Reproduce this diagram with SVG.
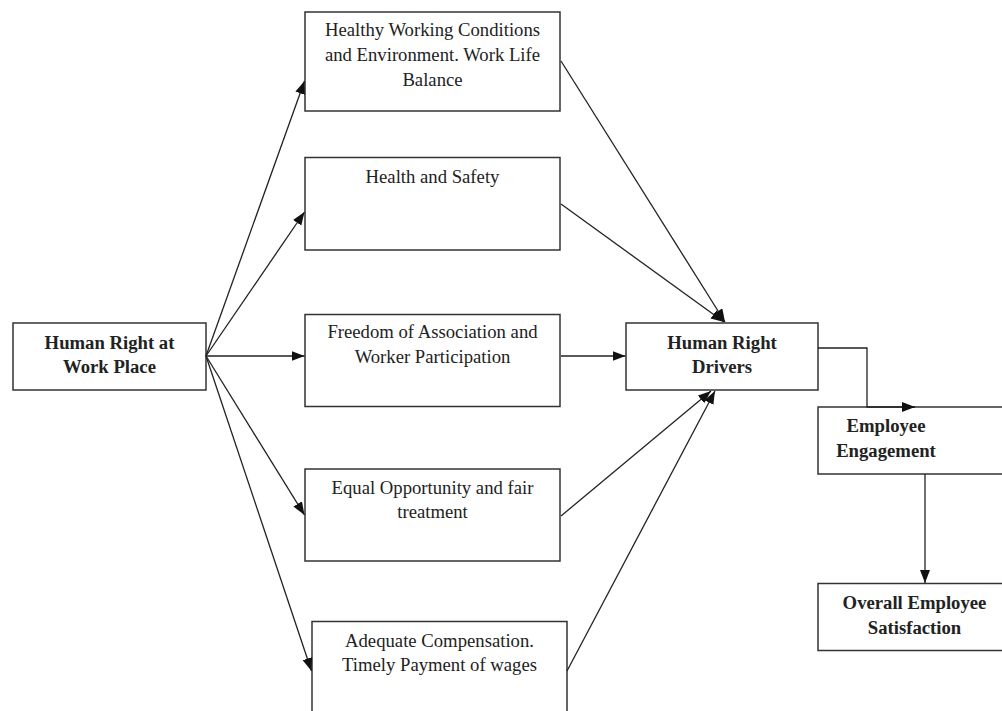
<svg xmlns="http://www.w3.org/2000/svg" width="1002" height="711" viewBox="0 0 1002 711">
<style>
.box{fill:#fff;stroke:#333;stroke-width:1.5}
.t{font-family:"Liberation Serif","Times New Roman",serif;font-size:18.7px;fill:#222;text-anchor:middle}
.b{font-weight:bold}
.c{fill:none;stroke:#222;stroke-width:1.3}
</style>
<defs>
<marker id="ah" markerUnits="userSpaceOnUse" markerWidth="14" markerHeight="11" refX="13" refY="5" orient="auto">
<path d="M0,0 L13,5 L0,10 z" fill="#111"/>
</marker>
</defs>
<rect width="1002" height="711" fill="#fff"/>
<g id="n-workplace">
<rect class="box" x="13" y="323" width="193" height="67"/>
<text class="t b" x="109.5" y="348.5">Human Right at</text>
<text class="t b" x="109.5" y="373">Work Place</text>
</g>
<g id="n-healthy">
<rect class="box" x="305" y="12" width="255" height="99"/>
<text class="t" x="432.5" y="36">Healthy Working Conditions</text>
<text class="t" x="432.5" y="61">and Environment. Work Life</text>
<text class="t" x="432.5" y="86">Balance</text>
</g>
<g id="n-safety">
<rect class="box" x="305" y="157.5" width="255" height="92.5"/>
<text class="t" x="432.5" y="183">Health and Safety</text>
</g>
<g id="n-freedom">
<rect class="box" x="305" y="314.5" width="255" height="92"/>
<text class="t" x="432.5" y="337.5">Freedom of Association and</text>
<text class="t" x="432.5" y="362.5">Worker Participation</text>
</g>
<g id="n-equal">
<rect class="box" x="305" y="469" width="255" height="92"/>
<text class="t" x="432.5" y="494">Equal Opportunity and fair</text>
<text class="t" x="432.5" y="518">treatment</text>
</g>
<g id="n-compensation">
<rect class="box" x="312" y="621.5" width="255" height="100"/>
<text class="t" x="439.5" y="647">Adequate Compensation.</text>
<text class="t" x="439.5" y="671">Timely Payment of wages</text>
</g>
<g id="n-drivers">
<rect class="box" x="626" y="323" width="192" height="67"/>
<text class="t b" x="722" y="348.5">Human Right</text>
<text class="t b" x="722" y="373">Drivers</text>
</g>
<g id="n-engagement">
<rect class="box" x="818" y="407" width="200" height="67"/>
<text class="t b" x="886" y="432">Employee</text>
<text class="t b" x="886" y="457">Engagement</text>
</g>
<g id="n-satisfaction">
<rect class="box" x="818" y="583.5" width="200" height="67"/>
<text class="t b" x="914.5" y="609">Overall Employee</text>
<text class="t b" x="914.5" y="633.5">Satisfaction</text>
</g>
<g id="connectors">
<line class="c" x1="206" y1="356" x2="304.5" y2="81" marker-end="url(#ah)"/>
<line class="c" x1="206" y1="356" x2="304.5" y2="212" marker-end="url(#ah)"/>
<line class="c" x1="206" y1="356" x2="304.5" y2="356" marker-end="url(#ah)"/>
<line class="c" x1="206" y1="356" x2="304.5" y2="515" marker-end="url(#ah)"/>
<line class="c" x1="206" y1="356" x2="311.5" y2="671" marker-end="url(#ah)"/>
<line class="c" x1="561" y1="61" x2="725" y2="322" marker-end="url(#ah)"/>
<line class="c" x1="561" y1="204" x2="724" y2="322" marker-end="url(#ah)"/>
<line class="c" x1="561" y1="356" x2="625.5" y2="356" marker-end="url(#ah)"/>
<line class="c" x1="561" y1="516" x2="711" y2="391" marker-end="url(#ah)"/>
<line class="c" x1="567" y1="671" x2="715" y2="391" marker-end="url(#ah)"/>
<path class="c" d="M818,348 H867 V407 H915" marker-end="url(#ah)"/>
<line class="c" x1="925" y1="474" x2="925" y2="583" marker-end="url(#ah)"/>
</g>
</svg>
